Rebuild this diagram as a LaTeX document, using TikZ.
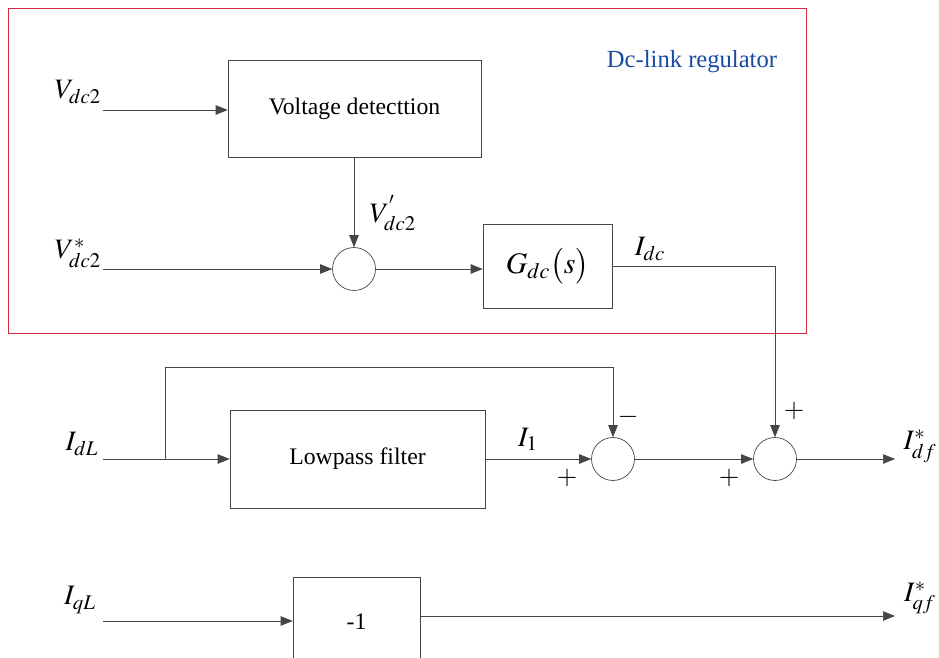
\documentclass[tikz,border=0pt]{standalone}
\usepackage{mathptmx}
\usepackage{fontspec}
\setmainfont{Liberation Serif}
\usetikzlibrary{positioning,calc,arrows.meta}
\definecolor{regred}{RGB}{210,45,60}
\definecolor{regblue}{RGB}{25,75,165}
\definecolor{wiregray}{RGB}{70,70,70}

\begin{document}
\begin{tikzpicture}[x=0.02cm,y=-0.02cm,
  blk/.style={draw=wiregray,font=\fontsize{13.5}{15}\selectfont,inner sep=0pt},
  sum/.style={draw=wiregray,circle,minimum size=0.86cm,inner sep=0pt},
  lbl/.style={font=\fontsize{16}{19}\selectfont,inner sep=0pt},
  sgn/.style={font=\fontsize{15}{17}\selectfont,inner sep=0pt},
  arr/.style={-{Triangle[length=2.4mm,width=1.9mm]},color=wiregray,thin}]
  \useasboundingbox (0,0) rectangle (939,658);
  \clip (0,0) rectangle (939,658);
  \fill[white] (0,0) rectangle (939,658);
  % regulator frame
  \draw[regred] (8,8) rectangle (806,333);
  \node[font=\fontsize{14}{16}\selectfont,color=regblue] (title) at (692,62) {Dc-link regulator};
  % blocks
  \node[blk,minimum width=5.06cm,minimum height=1.94cm] (det) at (354.5,108.5) {Voltage detecttion};
  \node[sum] (s1) at (354,269) {};
  \node[blk,minimum width=2.58cm,minimum height=1.68cm] (gdc) at (547.5,266) {\fontsize{17}{20}\selectfont$G_{dc}\big(s\big)$};
  \node[blk,minimum width=5.1cm,minimum height=1.96cm] (lpf) at (357.5,459) {Lowpass filter};
  \node[sum] (s2) at (613,459) {};
  \node[sum] (s3) at (775,459) {};
  \node[blk,minimum width=2.54cm,minimum height=2.1cm] (neg) at (356.5,629.5) {};
  \node[font=\fontsize{13.5}{15}\selectfont,inner sep=0pt] (negtxt) at (356.5,622) {-1};
  % free ends
  \coordinate (vin)  at (103,110);
  \coordinate (vref) at (103,269);
  \coordinate (idin) at (103,459);
  \coordinate (br)   at (165,459);
  \coordinate (iqin) at (103,621);
  \coordinate (dout) at (895,459);
  \coordinate (qout) at (895,616);
  % labels
  \node[lbl] (lvdc)  at (78,92)   {$V_{dc2}$};
  \node[lbl] (lvref) at (78,253)  {$V^{*}_{dc2}$};
  \node[lbl] (lvp)   at (393,213) {$V^{'}_{dc2}$};
  \node[lbl] (lidc)  at (650,249) {$I_{dc}$};
  \node[lbl] (lidl)  at (82,444)  {$I_{dL}$};
  \node[lbl] (li1)   at (528,439) {$I_{1}$};
  \node[lbl] (lidf)  at (920,446) {$I^{*}_{df}$};
  \node[lbl] (liql)  at (80,600)  {$I_{qL}$};
  \node[lbl] (liqf)  at (920,598) {$I^{*}_{qf}$};
  \node[sgn] (m2)  at (628,417) {$-$};
  \node[sgn] (p2)  at (567,478) {$+$};
  \node[sgn] (p3a) at (794,411) {$+$};
  \node[sgn] (p3b) at (729,478) {$+$};
  % connectors
  \draw[arr] (vin) -- (det.west |- vin);
  \draw[arr] (det.south -| s1) -- (s1.north);
  \draw[arr] (vref) -- (s1.west);
  \draw[arr] (s1.east) -- (gdc.west |- s1);
  \draw[arr] (gdc.east) -| (s3.north);
  \draw[arr] (idin) -- (lpf.west);
  \draw[arr] (br) -- (165,367) -| (s2.north);
  \draw[arr] (lpf.east) -- (s2.west);
  \draw[arr] (s2.east) -- (s3.west);
  \draw[arr] (s3.east) -- (dout);
  \draw[arr] (iqin) -- (neg.west |- iqin);
  \draw[arr] (neg.east |- qout) -- (qout);
\end{tikzpicture}
\end{document}
